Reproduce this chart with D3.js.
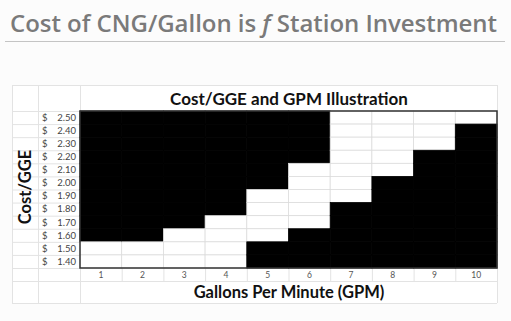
<!DOCTYPE html>
<html>
<head>
<meta charset="utf-8">
<script src="https://cdn.jsdelivr.net/npm/d3@7"></script>
<style>
  body { margin: 0; background: #fcfcfc; }
  svg { display: block; }
</style>
</head>
<body>
<svg width="511" height="321"></svg>
<script>
var gpm = [1, 2, 3, 4, 5, 6, 7, 8, 9, 10];
var costs = [2.50, 2.40, 2.30, 2.20, 2.10, 2.00, 1.90, 1.80, 1.70, 1.60, 1.50, 1.40];
// white band per GPM column (lowest and highest cost that is white)
var whiteLow = [1.40, 1.40, 1.40, 1.40, 1.60, 1.70, 1.90, 2.10, 2.30, 2.50];
var whiteHigh = [1.50, 1.50, 1.60, 1.70, 1.90, 2.10, 2.50, 2.50, 2.50, 2.50];

var cells = [];
gpm.forEach((g, i) => {
    costs.forEach(c => {
        var white = c >= whiteLow[i] - 0.001 && c <= whiteHigh[i] + 0.001;
        cells.push({gpm: g, cost: c, white: white});
    });
});

var svg = d3.select("svg");
var font = "Lato, 'Open Sans', sans-serif";

// slide title
svg.append("text")
    .attr("x", 10).attr("y", 32)
    .attr("font-family", "'Open Sans', sans-serif")
    .attr("font-weight", 600)
    .attr("font-size", 24)
    .attr("fill", "#7a7a7a")
    .attr("textLength", 487)
    .html("Cost of CNG/Gallon is <tspan font-style='italic'>f</tspan> Station Investment");
svg.append("line")
    .attr("x1", 5).attr("x2", 505).attr("y1", 41.5).attr("y2", 41.5)
    .attr("stroke", "#c4c4c4").attr("stroke-width", 1);

var gLeft = 80, gRight = 497, gTop = 111, gBottom = 268;
var xScale = d3.scaleBand().domain(gpm).range([gLeft, gRight]);
var yScale = d3.scaleBand().domain(costs).range([gTop, gBottom]);

// sheet background and gridlines
var sheet = svg.append("g");
sheet.append("rect").attr("x", 12).attr("y", 85).attr("width", gRight - 12).attr("height", 303 - 85)
    .attr("fill", "#fff");
var grid = "#e3e3e3";
[12, 38, 80, gRight].forEach(x => {
    sheet.append("line").attr("x1", x + 0.5).attr("x2", x + 0.5).attr("y1", 85).attr("y2", 303)
        .attr("stroke", grid);
});
[85, 303, 281].forEach(y => {
    sheet.append("line").attr("x1", 12).attr("x2", gRight).attr("y1", y + 0.5).attr("y2", y + 0.5)
        .attr("stroke", grid);
});
[gTop].concat(costs.map(c => yScale(c) + yScale.bandwidth())).forEach(y => {
    sheet.append("line").attr("x1", 12).attr("x2", gLeft).attr("y1", y + 0.5).attr("y2", y + 0.5)
        .attr("stroke", grid);
});
gpm.forEach(g => {
    sheet.append("line").attr("x1", xScale(g) + 0.5).attr("x2", xScale(g) + 0.5)
        .attr("y1", gBottom).attr("y2", 281).attr("stroke", grid);
});

// cells
svg.append("g").selectAll("rect")
    .data(cells)
    .enter()
    .append("rect")
    .attr("x", d => xScale(d.gpm))
    .attr("y", d => yScale(d.cost))
    .attr("width", xScale.bandwidth())
    .attr("height", yScale.bandwidth())
    .attr("fill", d => d.white ? "#fff" : "#000")
    .attr("stroke", d => d.white ? "#dcdcdc" : "#000")
    .attr("stroke-width", 0.8);

svg.append("rect")
    .attr("x", gLeft).attr("y", gTop).attr("width", gRight - gLeft).attr("height", gBottom - gTop)
    .attr("fill", "none").attr("stroke", "#333").attr("stroke-width", 1.5);

// cost labels
var yl = svg.append("g").attr("font-family", font).attr("font-size", 9.5).attr("fill", "#444");
costs.forEach(c => {
    var yy = yScale(c) + yScale.bandwidth() / 2 + 3.3;
    yl.append("text").attr("x", 42).attr("y", yy).text("$");
    yl.append("text").attr("x", 76).attr("y", yy).attr("text-anchor", "end").text(d3.format(".2f")(c));
});

// gpm labels
svg.append("g").selectAll("text")
    .data(gpm)
    .enter()
    .append("text")
    .attr("x", d => xScale(d) + xScale.bandwidth() / 2)
    .attr("y", 278)
    .attr("text-anchor", "middle")
    .attr("font-family", font).attr("font-size", 8.5).attr("fill", "#555")
    .text(d => d);

// chart titles
svg.append("text").attr("x", 289).attr("y", 105).attr("text-anchor", "middle")
    .attr("font-family", font).attr("font-weight", "bold").attr("font-size", 17).attr("fill", "#111")
    .text("Cost/GGE and GPM Illustration");
svg.append("text").attr("x", 289).attr("y", 298).attr("text-anchor", "middle")
    .attr("font-family", font).attr("font-weight", "bold").attr("font-size", 16.5).attr("fill", "#111")
    .text("Gallons Per Minute (GPM)");
svg.append("text").attr("transform", "translate(31,187) rotate(-90)").attr("text-anchor", "middle")
    .attr("font-family", font).attr("font-weight", "bold").attr("font-size", 16.5).attr("fill", "#111")
    .text("Cost/GGE");
</script>
</body>
</html>
